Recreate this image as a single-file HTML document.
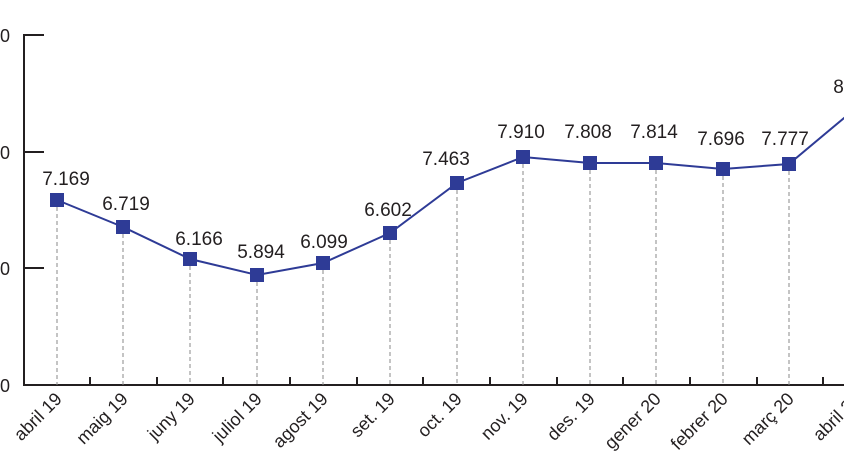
<!DOCTYPE html>
<html><head><meta charset="utf-8"><style>html,body{margin:0;padding:0;background:#fff}svg{display:block}</style></head>
<body>
<svg width="844" height="474" viewBox="0 0 844 474" xmlns="http://www.w3.org/2000/svg" font-family="Liberation Sans, sans-serif">
<g fill="#231f20" font-size="18">
<text x="10" y="42" text-anchor="end">10.000</text>
<text x="10" y="159" text-anchor="end">8.000</text>
<text x="10" y="275" text-anchor="end">6.000</text>
<text x="10" y="392" text-anchor="end">4.000</text>
</g>
<g stroke="#231f20" stroke-width="2" fill="none">
<path d="M44 35H24V385H844"/>
<path d="M24 152H44M24 268H44"/>
<path d="M90 385v-8M157 385v-8M223 385v-8M290 385v-8M357 385v-8M423 385v-8M490 385v-8M557 385v-8M623 385v-8M690 385v-8M757 385v-8M823 385v-8"/>
</g>
<g stroke="#888" stroke-width="1" stroke-dasharray="4,3">
<path d="M57 200V385M123 227V385M190 259V385M257 275V385M323 263V385M390 233V385M457 183V385M523 157V385M590 163V385M656 163V385M723 169V385M789 164V385"/>
</g>
<polyline fill="none" stroke="#2e3b96" stroke-width="2" points="57,200 123,227 190,259 257,275 323,263 390,233 457,183 523,157 590,163 656,163 723,169 789,164 856,108"/>
<g fill="#2e3b96">
<rect x="50" y="193" width="14" height="14"/><rect x="116" y="220" width="14" height="14"/><rect x="183" y="252" width="14" height="14"/><rect x="250" y="268" width="14" height="14"/><rect x="316" y="256" width="14" height="14"/><rect x="383" y="226" width="14" height="14"/><rect x="450" y="176" width="14" height="14"/><rect x="516" y="150" width="14" height="14"/><rect x="583" y="156" width="14" height="14"/><rect x="649" y="156" width="14" height="14"/><rect x="716" y="162" width="14" height="14"/><rect x="782" y="157" width="14" height="14"/><rect x="849" y="101" width="14" height="14"/>
</g>
<g fill="#231f20" font-size="19" text-anchor="middle">
<text x="66" y="185">7.169</text><text x="126" y="210">6.719</text><text x="199" y="245">6.166</text><text x="261" y="258">5.894</text><text x="324" y="248">6.099</text><text x="388" y="216">6.602</text><text x="446" y="165">7.463</text><text x="521" y="138">7.910</text><text x="588" y="138">7.808</text><text x="654" y="138">7.814</text><text x="721" y="145">7.696</text><text x="785" y="145">7.777</text><text x="857" y="93">8.760</text>
</g>
<g fill="#231f20" font-size="18" text-anchor="end">
<text transform="translate(63,400) rotate(-45)">abril 19</text>
<text transform="translate(129,400) rotate(-45)">maig 19</text>
<text transform="translate(196,400) rotate(-45)">juny 19</text>
<text transform="translate(263,400) rotate(-45)">juliol 19</text>
<text transform="translate(329,400) rotate(-45)">agost 19</text>
<text transform="translate(396,400) rotate(-45)">set. 19</text>
<text transform="translate(463,400) rotate(-45)">oct. 19</text>
<text transform="translate(529,400) rotate(-45)">nov. 19</text>
<text transform="translate(596,400) rotate(-45)">des. 19</text>
<text transform="translate(662,400) rotate(-45)">gener 20</text>
<text transform="translate(729,400) rotate(-45)">febrer 20</text>
<text transform="translate(795,400) rotate(-45)">març 20</text>
<text transform="translate(862,400) rotate(-45)">abril 20</text>
</g>
</svg>
</body></html>
